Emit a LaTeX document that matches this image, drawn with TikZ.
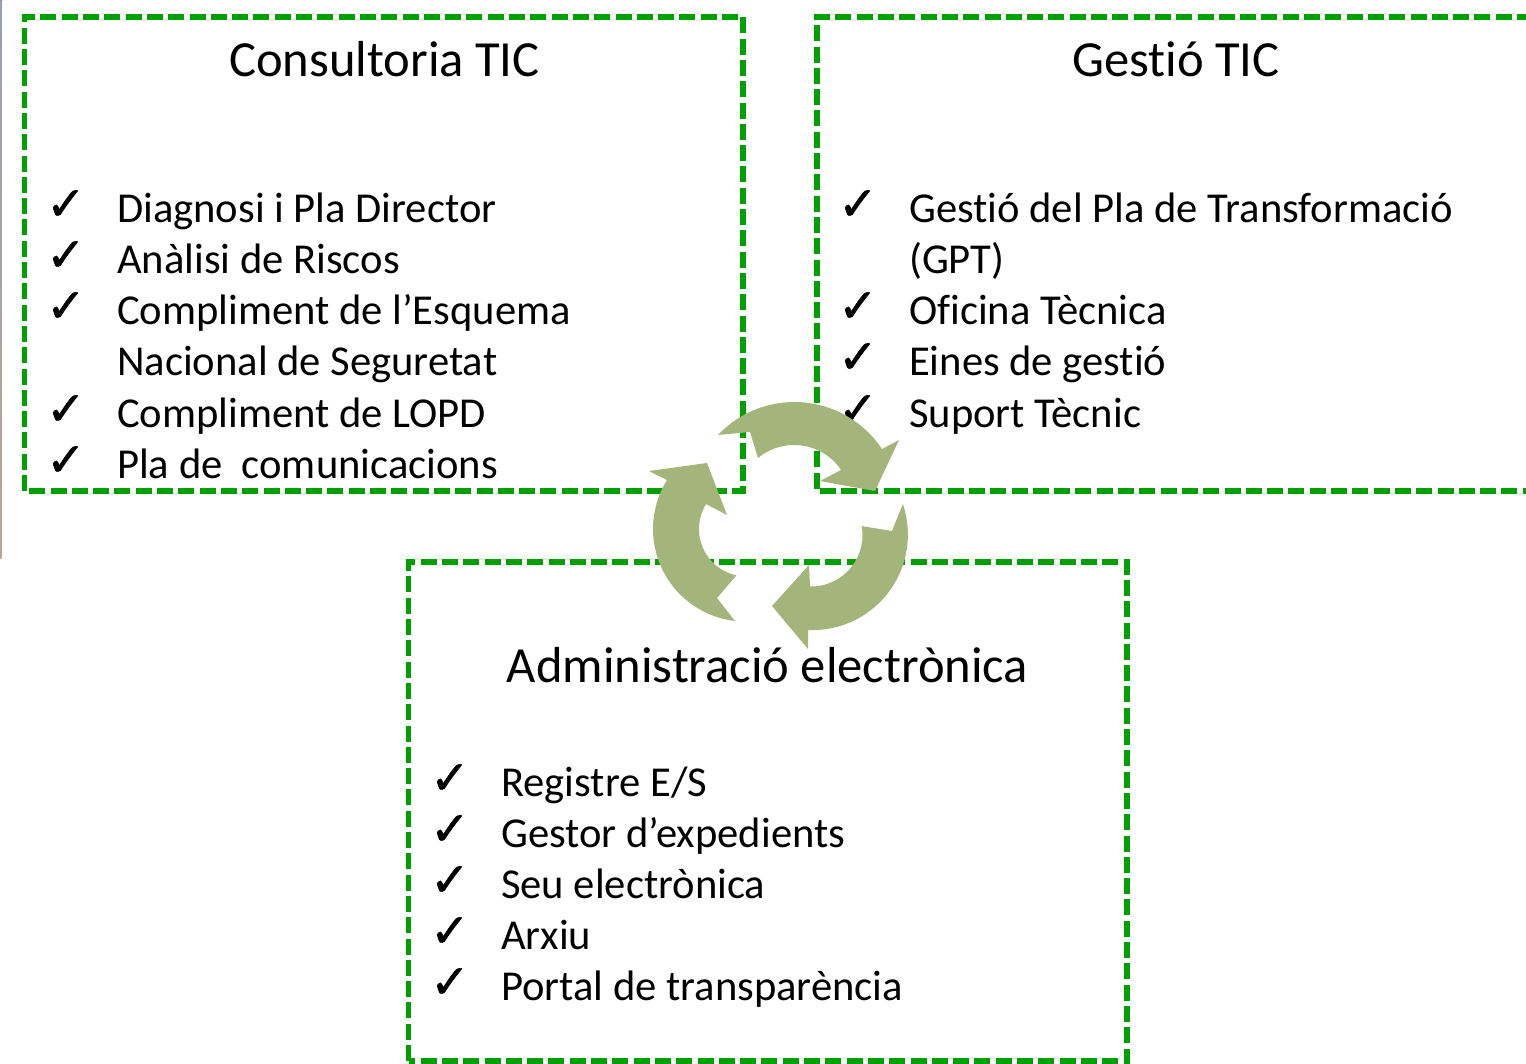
\documentclass[tikz,border=0pt]{standalone}
\usepackage{fontspec}
\setmainfont[Ligatures=NoCommon]{Carlito}
\newfontfamily\chkfont[FakeBold=1.2]{DejaVu Sans}
\tikzset{
  boxline/.style={draw=dashgreen,line width=5.1pt,dash pattern=on 16pt off 5.3pt},
  title/.style={anchor=base,inner sep=0pt,font=\fontsize{50.6}{54}\selectfont,text=black},
  item/.style={anchor=base west,inner sep=0pt,font=\fontsize{42.6}{46}\selectfont,text=black},
  chk/.style={anchor=base west,inner sep=0pt,font=\chkfont\fontsize{47}{50}\selectfont,text=black},
  cyclearrow/.style={fill=arrowgreen,draw=none}
}
\definecolor{dashgreen}{RGB}{0,160,0}
\definecolor{arrowgreen}{RGB}{164,181,123}
\definecolor{stripa}{RGB}{150,160,185}
\definecolor{stripb}{RGB}{190,165,145}
\begin{document}
\begin{tikzpicture}[x=1pt,y=-1pt]
\useasboundingbox (0,0) rectangle (1526,1063);
\clip (0,0) rectangle (1526,1063);
\fill[top color=stripa,bottom color=stripb] (0,0) rectangle (1.5,558);
% boxes
\draw[boxline] (24.5,491) -- (24.5,17) -- (743,17) -- (743,491) -- cycle;
\draw[boxline] (1560,491) -- (817,491) -- (817,17) -- (1560,17);
\draw[boxline] (408.5,1061) -- (408.5,562) -- (1127,562) -- (1127,1061) -- cycle;
% left box
\node[title] (t1) at (384.5,76) {Consultoria TIC};
\node[chk] (c11) at (46,220) {✓};
\node[chk] (c12) at (46,271) {✓};
\node[chk] (c13) at (46,322) {✓};
\node[chk] (c14) at (46,425) {✓};
\node[chk] (c15) at (46,476) {✓};
\node[item] (a1) at (117,222.5) {Diagnosi i Pla Director};
\node[item] (a2) at (117,273.5) {Anàlisi de Riscos};
\node[item] (a3) at (117,324.5) {Compliment de l’Esquema};
\node[item] (a4) at (117,375.5) {Nacional de Seguretat};
\node[item] (a5) at (117,427.5) {Compliment de LOPD};
\node[item] (a6) at (117,478.5) {Pla de\ \ comunicacions};
% right box
\node[title] (t2) at (1176,76) {Gestió TIC};
\node[chk] (c21) at (838,220) {✓};
\node[chk] (c22) at (838,322) {✓};
\node[chk] (c23) at (838,373) {✓};
\node[chk] (c24) at (838,425) {✓};
\node[item] (b1) at (909,222.5) {Gestió del Pla de Transformació};
\node[item] (b2) at (909,273.5) {(GPT)};
\node[item] (b3) at (909,324.5) {Oficina Tècnica};
\node[item] (b4) at (909,375.5) {Eines de gestió};
\node[item] (b5) at (909,427.5) {Suport Tècnic};
% bottom box
\node[title] (t3) at (767.5,682) {Administració electrònica};
\node[chk] (c31) at (430,794) {✓};
\node[chk] (c32) at (430,845) {✓};
\node[chk] (c33) at (430,896) {✓};
\node[chk] (c34) at (430,947) {✓};
\node[chk] (c35) at (430,998) {✓};
\node[item] (d1) at (501,796.5) {Registre E/S};
\node[item] (d2) at (501,847.5) {Gestor d’expedients};
\node[item] (d3) at (501,898.5) {Seu electrònica};
\node[item] (d4) at (501,949.5) {Arxiu};
\node[item] (d5) at (501,1000.5) {Portal de transparència};
% cycle arrows
\fill[cyclearrow] plot[domain=223.3:326.5,samples=40] ({794.4+105*cos(\x)},{507+105*sin(\x)})
  -- (899,440) -- (875,491) -- (820,481) -- (841,470)
  -- plot[domain=326:230.4,samples=40] ({794.1+56.6*cos(\x)},{501.6+56.6*sin(\x)})
  -- (750,432) -- cycle;
\fill[cyclearrow] plot[domain=-18.7:92.6,samples=40] ({812.4+95.5*cos(\x)},{534.6+95.5*sin(\x)})
  -- (808,649) -- (772,606) -- (809,565)
  -- plot[domain=91:-10,samples=40] ({811+51.5*cos(\x)},{535+51.5*sin(\x)})
  -- (892,531) -- cycle;
\fill[cyclearrow] plot[domain=96.6:211.9,samples=40] ({745.6+92.6*cos(\x)},{529+92.6*sin(\x)})
  -- (649,471) -- (707,463) -- (727,515) -- (706,504)
  -- plot[domain=211.7:102.3,samples=40] ({746.5+47.5*cos(\x)},{529+47.5*sin(\x)})
  -- (717,598) -- cycle;
\end{tikzpicture}
\end{document}
